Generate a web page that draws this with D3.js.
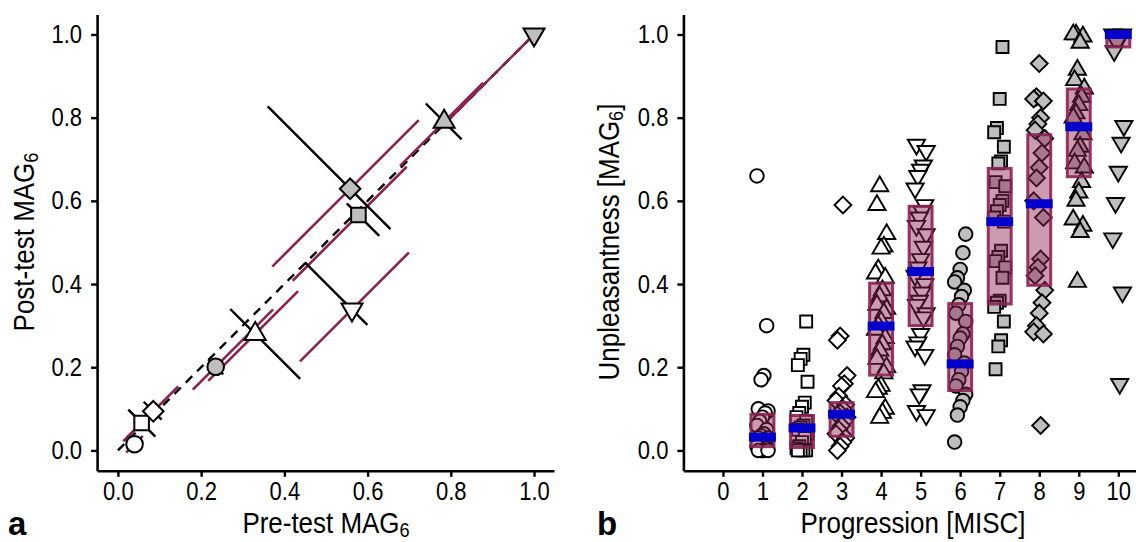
<!DOCTYPE html>
<html lang="en">
<head>
<meta charset="UTF-8">
<title>MAG6 pre/post and unpleasantness by MISC</title>
<script src="https://d3js.org/d3.v7.min.js"></script>
<style>
    body { margin: 0; background: #fff; }
    svg { display: block; font-family: "Liberation Sans", Arial, Helvetica, sans-serif; }
</style>
</head>
<body>
<svg id="chart" width="1136" height="542"></svg>
<script>
    // ---- panel a: one point per MISC level ----
    const miscLevels = [1, 2, 3, 4, 5, 6, 7, 8, 9, 10];
    const shapes = ['circle', 'square', 'diamond', 'triangle', 'triangleDown',
                    'circle', 'square', 'diamond', 'triangle', 'triangleDown'];
    const filled = [false, false, false, false, false, true, true, true, true, true];
    const preTest  = [0.040, 0.057, 0.085, 0.330, 0.5625, 0.235, 0.578, 0.558, 0.784, 1.0];
    const postTest = [0.015, 0.066, 0.094, 0.280, 0.339, 0.201, 0.566, 0.629, 0.790, 1.0];
    // spread across the diagonal (black, slope -1) and along it (purple, slope +1)
    const acrossLow  = [0.015, 0.032, 0.023, 0.060, 0.113, 0.018, 0.028, 0.198, 0.044, 0.0];
    const acrossHigh = [0.015, 0.033, 0.020, 0.108, 0.037, 0.018, 0.050, 0.097, 0.042, 0.0];
    const alongLow   = [0.020, 0.035, 0.072, 0.113, 0.125, 0.055, 0.158, 0.187, 0.106, 0.210];
    const alongHigh  = [0.020, 0.025, 0.060, 0.103, 0.137, 0.138, 0.116, 0.165, 0.094, 0.0];
    const magTicks = [0, 0.2, 0.4, 0.6, 0.8, 1.0];

    // ---- panel b: unpleasantness ratings per MISC level ----
    const miscTicks = [0, 1, 2, 3, 4, 5, 6, 7, 8, 9, 10];
    const col1 = [0.66, 0.30, 0.18, 0.17, 0.10, 0.095, 0.09, 0.08, 0.07, 0.06, 0.05, 0.04, 0.035, 0.03, 0.03, 0.025, 0.02, 0.015, 0.01, 0.005, 0, 0, 0, 0];
    const col2 = [0.31, 0.23, 0.22, 0.205, 0.165, 0.115, 0.105, 0.09, 0.08, 0.07, 0.06, 0.055, 0.05, 0.04, 0.03, 0.02, 0.01, 0.005, 0, 0, 0, 0];
    const col3 = [0.59, 0.275, 0.265, 0.18, 0.16, 0.155, 0.13, 0.12, 0.11, 0.10, 0.09, 0.085, 0.08, 0.07, 0.06, 0.05, 0.04, 0.03, 0.02, 0.01, 0.0];
    const col4 = [0.635, 0.59, 0.52, 0.49, 0.485, 0.435, 0.425, 0.415, 0.385, 0.37, 0.35, 0.34, 0.33, 0.31, 0.30, 0.29, 0.27, 0.255, 0.24, 0.22, 0.20, 0.185, 0.155, 0.148, 0.14, 0.10, 0.09, 0.078];
    const col5 = [0.735, 0.72, 0.685, 0.675, 0.66, 0.63, 0.59, 0.575, 0.56, 0.54, 0.52, 0.49, 0.46, 0.44, 0.42, 0.40, 0.38, 0.36, 0.35, 0.33, 0.32, 0.28, 0.26, 0.25, 0.23, 0.145, 0.135, 0.095, 0.085];
    const col6 = [0.52, 0.475, 0.435, 0.415, 0.405, 0.385, 0.37, 0.35, 0.33, 0.31, 0.28, 0.27, 0.25, 0.23, 0.21, 0.19, 0.17, 0.155, 0.135, 0.12, 0.105, 0.085, 0.02];
    const col7 = [0.97, 0.845, 0.775, 0.765, 0.73, 0.695, 0.69, 0.645, 0.635, 0.60, 0.59, 0.575, 0.56, 0.55, 0.48, 0.465, 0.455, 0.44, 0.415, 0.36, 0.355, 0.345, 0.31, 0.265, 0.25, 0.195];
    const col8 = [0.93, 0.85, 0.845, 0.84, 0.80, 0.785, 0.77, 0.75, 0.715, 0.68, 0.655, 0.60, 0.56, 0.46, 0.44, 0.42, 0.385, 0.355, 0.33, 0.30, 0.285, 0.28, 0.06];
    const col9 = [1.0, 1.0, 0.995, 0.98, 0.915, 0.89, 0.87, 0.85, 0.83, 0.81, 0.80, 0.76, 0.73, 0.72, 0.69, 0.68, 0.645, 0.62, 0.60, 0.555, 0.54, 0.525, 0.405];
    const col10 = [1.0, 1.0, 0.99, 0.98, 0.96, 0.78, 0.74, 0.67, 0.595, 0.51, 0.38, 0.16];
    const boxQ1     = [0.009, 0.007, 0.034, 0.181, 0.300, 0.144, 0.352, 0.397, 0.658, 0.970];
    const boxMedian = [0.032, 0.054, 0.087, 0.299, 0.430, 0.208, 0.550, 0.593, 0.778, 1.000];
    const boxQ3     = [0.087, 0.084, 0.115, 0.402, 0.587, 0.353, 0.678, 0.759, 0.869, 1.000];

    const columns = [col1, col2, col3, col4, col5, col6, col7, col8, col9, col10];

    const PURPLE = '#8B2252';
    const BLUE = '#0000CD';
    const GRAY = '#BEBEBE';
    const TICK_FONT = 25;
    const TITLE_FONT = 29.5;
    const SX = 0.88;   // the figure uses a narrow sans face

    const svg = d3.select('#chart');

    function markerPath(shape, k) {
        const p = d3.path();
        if (shape === 'circle') {
            const r = 8.3 * k;
            p.moveTo(r, 0);
            p.arc(0, 0, r, 0, 2 * Math.PI);
        } else if (shape === 'square') {
            const h = 7.3 * k;
            p.rect(-h, -h, 2 * h, 2 * h);
        } else if (shape === 'diamond') {
            const h = 10.3 * k;
            p.moveTo(0, -h); p.lineTo(h, 0); p.lineTo(0, h); p.lineTo(-h, 0);
        } else {
            const w = 10.5 * k, ht = 18 * k;
            const s = shape === 'triangle' ? 1 : -1;
            p.moveTo(0, -s * ht * 2 / 3);
            p.lineTo(w, s * ht / 3);
            p.lineTo(-w, s * ht / 3);
        }
        p.closePath();
        return p.toString();
    }

    function styleAxis(g) {
        g.attr('font-size', null).attr('font-family', null);
        g.select('.domain').attr('stroke', '#000').attr('stroke-width', 2.6);
        g.selectAll('.tick line').attr('stroke', '#000').attr('stroke-width', 2.4);
        g.selectAll('.tick text').attr('fill', '#000').attr('font-size', TICK_FONT)
            .each(function () {
                const t = d3.select(this);
                const x = +t.attr('x') || 0;
                t.attr('x', x / SX).attr('transform', `scale(${SX},1)`);
            });
    }

    function axisTitle(x, y, rotate, main, sub, after) {
        const t = svg.append('text')
            .attr('transform', `translate(${x},${y})` + (rotate ? ' rotate(-90)' : '') + ` scale(${SX},1)`)
            .attr('text-anchor', 'middle')
            .attr('font-size', TITLE_FONT)
            .attr('fill', '#000');
        t.append('tspan').text(main);
        if (sub) {
            t.append('tspan').attr('font-size', TITLE_FONT * 0.7).attr('dy', '0.18em').text(sub);
            if (after) t.append('tspan').attr('dy', '-0.13em').text(after);
        }
    }

    // ---------- panel a ----------
    const xa = d3.scaleLinear().domain([-0.05, 1.048]).range([97.1, 554]);
    const ya = d3.scaleLinear().domain([-0.049, 1.048]).range([470.8, 14.5]);

    svg.append('g').attr('transform', 'translate(0,470.8)')
        .call(d3.axisBottom(xa).tickValues(magTicks).tickFormat(d3.format('.1f'))
            .tickSize(6).tickSizeOuter(0).tickPadding(5))
        .call(styleAxis);
    svg.append('g').attr('transform', 'translate(97.1,0)')
        .call(d3.axisLeft(ya).tickValues(magTicks).tickFormat(d3.format('.1f'))
            .tickSize(6).tickSizeOuter(0).tickPadding(9))
        .call(styleAxis);

    const pa = svg.append('g');
    pa.append('line')
        .attr('x1', xa(0)).attr('y1', ya(0)).attr('x2', xa(1)).attr('y2', ya(1))
        .attr('stroke', '#000').attr('stroke-width', 2.4).attr('stroke-dasharray', '9,7');

    pa.selectAll('line.along').data(miscLevels).enter().append('line')
        .attr('class', 'along')
        .attr('x1', (d, i) => xa(preTest[i] - alongLow[i])).attr('y1', (d, i) => ya(postTest[i] - alongLow[i]))
        .attr('x2', (d, i) => xa(preTest[i] + alongHigh[i])).attr('y2', (d, i) => ya(postTest[i] + alongHigh[i]))
        .attr('stroke', PURPLE).attr('stroke-width', 2.6);

    pa.selectAll('line.across').data(miscLevels).enter().append('line')
        .attr('class', 'across')
        .attr('x1', (d, i) => xa(preTest[i] - acrossLow[i])).attr('y1', (d, i) => ya(postTest[i] + acrossLow[i]))
        .attr('x2', (d, i) => xa(preTest[i] + acrossHigh[i])).attr('y2', (d, i) => ya(postTest[i] - acrossHigh[i]))
        .attr('stroke', '#000').attr('stroke-width', 2.4);

    pa.selectAll('path.pt').data(miscLevels).enter().append('path')
        .attr('class', 'pt')
        .attr('transform', (d, i) => `translate(${xa(preTest[i])},${ya(postTest[i])})`)
        .attr('d', (d, i) => markerPath(shapes[i], 1))
        .attr('fill', (d, i) => filled[i] ? GRAY : '#fff')
        .attr('stroke', '#000').attr('stroke-width', 2);

    axisTitle(326, 533, false, 'Pre-test MAG', '6');
    axisTitle(34, 242, true, 'Post-test MAG', '6');
    svg.append('text').attr('x', 8).attr('y', 535).attr('font-size', 33)
        .attr('font-weight', 'bold').text('a');

    // ---------- panel b ----------
    const xb = d3.scaleLinear().domain([-1, 10.46]).range([683.4, 1136.5]);
    const yb = ya.copy();

    svg.append('g').attr('transform', 'translate(0,470.8)')
        .call(d3.axisBottom(xb).tickValues(miscTicks).tickFormat(d3.format('d'))
            .tickSize(6).tickSizeOuter(0).tickPadding(5))
        .call(styleAxis);
    svg.append('g').attr('transform', 'translate(683.4,0)')
        .call(d3.axisLeft(yb).tickValues(magTicks).tickFormat(d3.format('.1f'))
            .tickSize(6).tickSizeOuter(0).tickPadding(9))
        .call(styleAxis);

    const jitter = i => ((((i * 7) % 9) - 4) / 4) * 0.14;
    const pb = svg.append('g');
    columns.forEach((vals, c) => {
        pb.selectAll(null).data(vals).enter().append('path')
            .attr('transform', (v, i) => `translate(${xb(miscLevels[c] + jitter(i + c))},${yb(v)})`)
            .attr('d', markerPath(shapes[c], 0.82))
            .attr('fill', filled[c] ? GRAY : '#fff')
            .attr('stroke', '#000').attr('stroke-width', 1.9);
    });

    const boxHalf = 0.29;
    pb.selectAll('rect.box').data(miscLevels).enter().append('rect')
        .attr('class', 'box')
        .attr('x', d => xb(d - boxHalf))
        .attr('width', xb(boxHalf) - xb(-boxHalf))
        .attr('y', (d, i) => yb(boxQ3[i]))
        .attr('height', (d, i) => yb(boxQ1[i]) - yb(boxQ3[i]))
        .attr('fill', PURPLE).attr('fill-opacity', 0.45)
        .attr('stroke', PURPLE).attr('stroke-opacity', 0.9).attr('stroke-width', 3);

    pb.selectAll('rect.med').data(miscLevels).enter().append('rect')
        .attr('class', 'med')
        .attr('x', d => xb(d - 0.34))
        .attr('width', xb(0.34) - xb(-0.34))
        .attr('y', (d, i) => yb(boxMedian[i]) - 4.5)
        .attr('height', 9)
        .attr('fill', BLUE);

    axisTitle(913, 533, false, 'Progression [MISC]');
    axisTitle(619, 242, true, 'Unpleasantness [MAG', '6', ']');
    svg.append('text').attr('x', 597).attr('y', 535).attr('font-size', 33)
        .attr('font-weight', 'bold').text('b');
</script>
</body>
</html>
